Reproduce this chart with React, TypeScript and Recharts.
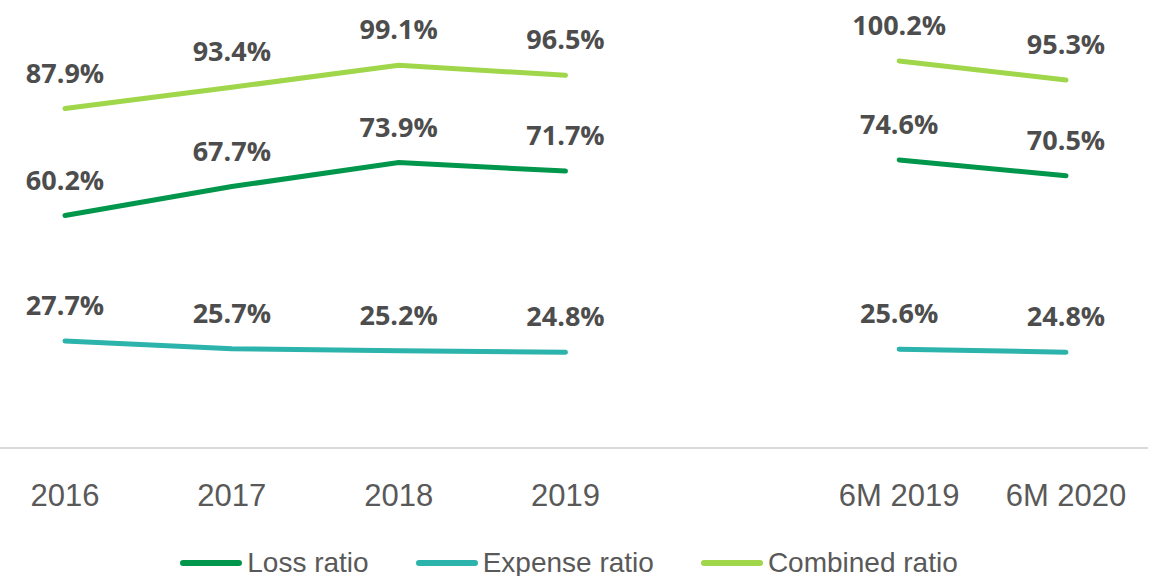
import React from "react";
import { LineChart, Line, XAxis, YAxis, Legend, LabelList } from "recharts";

const categories = ["2016", "2017", "2018", "2019", "", "6M 2019", "6M 2020"];
const lossRatio = [60.2, 67.7, 73.9, 71.7, null, 74.6, 70.5];
const expenseRatio = [27.7, 25.7, 25.2, 24.8, null, 25.6, 24.8];
const combinedRatio = [87.9, 93.4, 99.1, 96.5, null, 100.2, 95.3];

const data = categories.map((c, i) => ({
  name: c,
  loss: lossRatio[i],
  expense: expenseRatio[i],
  combined: combinedRatio[i],
}));

const series = [
  { key: "loss", name: "Loss ratio", color: "#00964b" },
  { key: "expense", name: "Expense ratio", color: "#2bb3ac" },
  { key: "combined", name: "Combined ratio", color: "#9fd64a" },
];

const sans = '"Liberation Sans", Arial, sans-serif';

const LegendContent = () => (
  <div
    style={{
      display: "flex",
      justifyContent: "center",
      alignItems: "center",
      height: 30,
      paddingTop: 4,
      paddingRight: 11,
      boxSizing: "border-box",
      fontFamily: sans,
      fontSize: 28,
      color: "#595959",
    }}
  >
    {series.map((s, i) => (
      <div
        key={s.key}
        style={{ display: "flex", alignItems: "center", marginLeft: i === 0 ? 0 : 46 }}
      >
        <svg width={64} height={10} style={{ marginRight: 4 }}>
          <line x1={4} y1={5} x2={60} y2={5} stroke={s.color} strokeWidth={6} strokeLinecap="round" />
        </svg>
        <span style={{ whiteSpace: "nowrap" }}>{s.name}</span>
      </div>
    ))}
  </div>
);

export default function App() {
  return (
    <div style={{ position: "absolute", left: 0, top: 0, background: "#fff" }}>
      <LineChart width={1162} height={576} data={data} margin={{ top: 0, right: 14, left: 0, bottom: 0 }}>
        <XAxis
          dataKey="name"
          padding={{ left: 65, right: 82 }}
          axisLine={{ stroke: "#d9d9d9", strokeWidth: 2 }}
          tickLine={false}
          tickSize={0}
          tickMargin={36}
          height={98}
          interval={0}
          tick={{ fill: "#595959", fontSize: 31, fontFamily: sans }}
        />
        <YAxis hide domain={[0, 116]} />
        <Legend verticalAlign="bottom" height={30} content={<LegendContent />} />
        {series.map((s) => (
          <Line
            key={s.key}
            type="linear"
            dataKey={s.key}
            name={s.name}
            stroke={s.color}
            strokeWidth={5}
            strokeLinecap="round"
            dot={false}
            activeDot={false}
            isAnimationActive={false}
          >
            <LabelList
              dataKey={s.key}
              position="top"
              offset={26}
              fill="#4d4d4d"
              fontSize={27}
              fontWeight="bold"
              fontFamily='"Open Sans", sans-serif'
              formatter={(v: any) => (v == null ? "" : `${Number(v).toFixed(1)}%`)}
            />
          </Line>
        ))}
      </LineChart>
    </div>
  );
}
